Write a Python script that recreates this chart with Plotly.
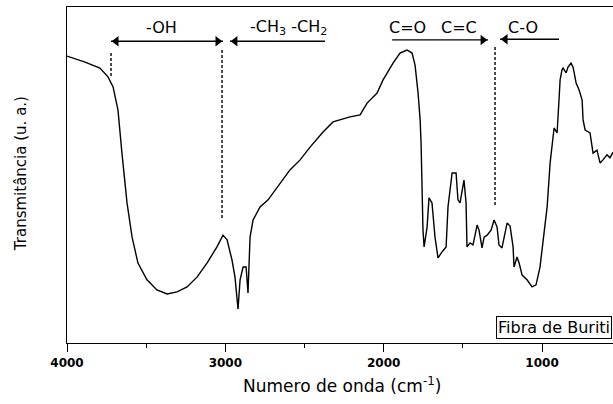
import plotly.graph_objects as go

# FTIR spectrum of Buriti fibre (wavenumber in cm^-1, transmittance in arbitrary units)
wavenumber = [4000, 3886, 3792, 3741, 3709, 3678, 3653, 3621, 3589, 3552, 3495, 3432, 3368, 3305,
              3242, 3179, 3116, 3053, 3015, 2989, 2958, 2939, 2920, 2907, 2888, 2869, 2857, 2844,
              2825, 2781, 2730, 2655, 2592, 2528, 2465, 2383, 2320, 2213, 2149, 2105, 2042, 2004,
              1941, 1897, 1853, 1821, 1802, 1783, 1770, 1764, 1758, 1752, 1745, 1726, 1714, 1695,
              1676, 1657, 1632, 1606, 1594, 1568, 1543, 1531, 1518, 1499, 1493, 1480, 1474, 1455,
              1436, 1410, 1398, 1379, 1366, 1347, 1322, 1303, 1284, 1272, 1253, 1221, 1202, 1183,
              1177, 1158, 1145, 1126, 1095, 1063, 1038, 1013, 994, 968, 949, 931, 924, 905, 899,
              893, 886, 874, 867, 848, 836, 817, 804, 785, 766, 747, 741, 728, 697, 678, 653, 634,
              615, 590, 571, 552]
transmittance = [85.4, 83.6, 81.8, 79.2, 76.2, 69.3, 56.5, 41.7, 31.5, 23.8, 18.8, 15.8, 14.6, 15.2,
                 16.7, 19.6, 23.8, 28.6, 32.1, 30.7, 24.7, 19.6, 10.1, 18.8, 22.6, 22.6, 14.9, 31.5,
                 36.6, 40.5, 42.6, 47.6, 51.5, 54.5, 58.3, 62.8, 65.8, 67.3, 67.9, 71.4, 74.4, 78.3,
                 83.3, 86.3, 87.2, 86.3, 82.7, 74.4, 66.4, 59.5, 46.4, 33.6, 28.6, 34.5, 43.2, 41.7,
                 31.5, 25.3, 27.1, 28.6, 40.5, 50.6, 50.6, 42.6, 41.7, 47.6, 48.5, 41.7, 28.6, 29.8,
                 29.2, 35.1, 33.6, 28.3, 31.5, 32.1, 33.6, 36.6, 34.5, 29.2, 28.3, 35.7, 34.8, 28.6,
                 22.6, 25.6, 23.8, 20.2, 18.8, 16.7, 17.3, 22.6, 29.8, 40.5, 53.6, 61.3, 64.0, 62.5,
                 66.4, 72.3, 78.3, 81.3, 81.8, 80.4, 82.1, 83.3, 82.1, 77.4, 75.3, 72.3, 66.4, 63.4,
                 62.5, 56.5, 57.4, 53.6, 54.5, 56.0, 55.1, 56.8]

# band-region markers (dotted lines): wavenumber, bottom, top
marker_wn = [3722, 3021, 1297]
marker_bottom = [79.5, 37.2, 41.1]
marker_top = [86.6, 87.8, 88.1]

# band-region arrows: start wavenumber, end wavenumber, level, heads at (start, end)
arrow_start = [3722, 2971, 1947, 1265]
arrow_end = [3015, 2371, 1341, 893]
arrow_level = [89.8, 89.8, 90.2, 90.4]
arrow_heads = [(True, True), (True, False), (False, True), (True, False)]

# band labels
label_text = ["-OH", "-CH<sub>3</sub> -CH<sub>2</sub>", "C=O", "C=C", "C-O"]
label_wn = [3403, 2604, 1850, 1524, 1123]
label_level = 94.0

x_ticks = [4000, 3000, 2000, 1000]
x_minor = [3500, 2500, 1500]
x_range = [4000, 552]
y_range = [0, 100]

FONT = "DejaVu Sans"
W, H = 613, 404
M = dict(l=67, r=0, t=7, b=61)
plot_w = W - M["l"] - M["r"]
units_per_px = (x_range[0] - x_range[1]) / plot_w
HEAD = 9  # marker size of arrow heads
tip_shift = (HEAD / 2) * 2 / 3 ** 0.5 * units_per_px

fig = go.Figure()
fig.add_trace(go.Scatter(x=wavenumber, y=transmittance, mode="lines",
                         line=dict(color="black", width=1.4), showlegend=False,
                         hoverinfo="skip"))

for wn, b, t in zip(marker_wn, marker_bottom, marker_top):
    fig.add_trace(go.Scatter(x=[wn, wn], y=[b, t], mode="lines",
                             line=dict(color="black", width=1.4, dash="3px,2px"),
                             showlegend=False, hoverinfo="skip"))

for s, e, lv, (hs, he) in zip(arrow_start, arrow_end, arrow_level, arrow_heads):
    fig.add_trace(go.Scatter(x=[s, e], y=[lv, lv], mode="lines",
                             line=dict(color="black", width=1.3),
                             showlegend=False, hoverinfo="skip"))
    hx, hsym = [], []
    # x axis is reversed: larger wavenumber is to the left
    if hs:
        hx.append(s - tip_shift)
        hsym.append("triangle-left")
    if he:
        hx.append(e + tip_shift)
        hsym.append("triangle-right")
    fig.add_trace(go.Scatter(x=hx, y=[lv] * len(hx), mode="markers",
                             marker=dict(symbol=hsym, size=HEAD, color="black",
                                         line=dict(width=0)),
                             showlegend=False, hoverinfo="skip"))

annotations = []
for t, wn in zip(label_text, label_wn):
    annotations.append(dict(x=wn, y=label_level, xref="x", yref="y", text=t, showarrow=False,
                            font=dict(family=FONT, size=16, color="black"),
                            xanchor="center", yanchor="middle"))

annotations.append(dict(x=0.998, y=0.0476, xref="paper", yref="paper", text="Fibra de Buriti",
                        showarrow=False, xanchor="right", yanchor="middle",
                        font=dict(family=FONT, size=16, color="black"),
                        bordercolor="black", borderwidth=1, borderpad=1, bgcolor="white"))
annotations.append(dict(x=0.503, y=-0.125, xref="paper", yref="paper",
                        text="Numero de onda (cm<sup>-1</sup>)", showarrow=False,
                        xanchor="center", yanchor="middle",
                        font=dict(family=FONT, size=17, color="black")))
annotations.append(dict(x=-0.084, y=0.503, xref="paper", yref="paper",
                        text="Transmitância (u. a.)", showarrow=False, textangle=-90,
                        xanchor="center", yanchor="middle",
                        font=dict(family=FONT, size=15, color="black")))

fig.update_layout(
    width=W, height=H,
    margin=M,
    paper_bgcolor="white", plot_bgcolor="white",
    annotations=annotations,
    xaxis=dict(range=x_range, showgrid=False, zeroline=False,
               showline=True, linecolor="black", linewidth=1.3, mirror=True,
               ticks="outside", ticklen=8, tickwidth=1.3, tickcolor="black",
               tickvals=x_ticks, ticktext=[str(v) for v in x_ticks],
               tickfont=dict(family=FONT, size=12, color="black", weight="bold"),
               minor=dict(ticks="outside", ticklen=4, tickwidth=1.3, tickcolor="black",
                          tickvals=x_minor)),
    yaxis=dict(range=y_range, showgrid=False, zeroline=False,
               showline=True, linecolor="black", linewidth=1.3,
               ticks="", showticklabels=False),
)

fig.write_html("out.html")
